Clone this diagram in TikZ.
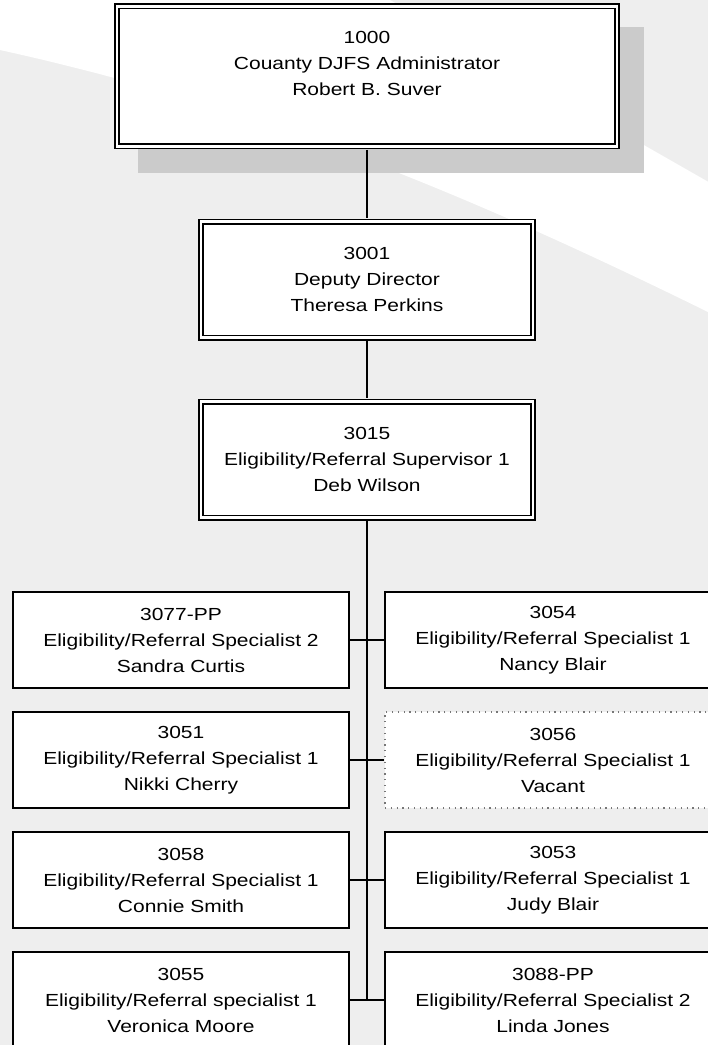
\documentclass[tikz,border=0pt]{standalone}
\usepackage{fontspec}
\setmainfont{Liberation Sans}[FakeStretch=1.2]
\usepackage{tikz}
\usetikzlibrary{positioning}
\definecolor{bggray}{HTML}{EEEEEE}
\definecolor{shadowgray}{HTML}{CBCBCB}
\definecolor{dotgray}{HTML}{777777}
\tikzset{
    headbox/.style={draw, fill=white, line width=1.5pt, double=white, double distance=2.8pt,
        align=center, inner sep=0pt, minimum width=332pt, minimum height=116pt,
        font=\fontsize{17.5}{26}\selectfont},
    staffbox/.style={draw, fill=white, line width=1.6pt, align=center, inner sep=0pt,
        minimum width=336pt, minimum height=96pt, font=\fontsize{17.5}{26}\selectfont},
    vacantbox/.style={staffbox, draw=dotgray, line width=1.2pt, dash pattern=on 1.2pt off 4.6pt},
    link/.style={line width=1.5pt},
}

\begin{document}
\begin{tikzpicture}[x=1pt,y=-1pt]
        \useasboundingbox (0,0) rectangle (708,1045);
        \clip (0,0) rectangle (708,1045);

        % background swoosh
        \fill[bggray] (0,0) rectangle (708,1045);
        \fill[white] (0,0) -- (390,0) -- (708,181.7) -- (708,312) .. controls (460,190) and (250,105) .. (0,50) -- cycle;
        \fill[shadowgray] (138,27) rectangle (644,172.7);

        \node[headbox, minimum width=500pt, minimum height=140pt] (admin) at (367,76.2) {1000\\Couanty DJFS Administrator\\Robert B. Suver\\\mbox{}};
        \node[headbox] (deputy) at (367,279.7) {3001\\Deputy Director\\Theresa Perkins};
        \node[headbox] (supv) at (367,459.7) {3015\\Eligibility/Referral Supervisor 1\\Deb Wilson};

        \node[staffbox] (s3077) at (181,640) {3077-PP\\Eligibility/Referral Specialist 2\\Sandra Curtis};
        \node[staffbox] (s3054) at (553,640) {3054\\Eligibility/Referral Specialist 1\\Nancy Blair};
        \node[staffbox] (s3051) at (181,760) {3051\\Eligibility/Referral Specialist 1\\Nikki Cherry};
        \node[vacantbox] (s3056) at (553,760) {3056\\Eligibility/Referral Specialist 1\\Vacant};
        \node[staffbox] (s3058) at (181,880) {3058\\Eligibility/Referral Specialist 1\\Connie Smith};
        \node[staffbox] (s3053) at (553,880) {3053\\Eligibility/Referral Specialist 1\\Judy Blair};
        \node[staffbox] (s3055) at (181,1000) {3055\\Eligibility/Referral specialist 1\\Veronica Moore};
        \node[staffbox] (s3088) at (553,1000) {3088-PP\\Eligibility/Referral Specialist 2\\Linda Jones};

        \coordinate (spine) at (367,1000);
        \draw[link, shorten <=2.9pt, shorten >=2.9pt] (admin.south) -- (deputy.north);
        \draw[link, shorten <=2.9pt, shorten >=2.9pt] (deputy.south) -- (supv.north);
        \draw[link, shorten <=2.9pt] (supv.south) -- (spine);

        \draw[link] (s3077.east) -- (s3054.west);
        \draw[link] (s3051.east) -- (s3056.west);
        \draw[link] (s3058.east) -- (s3053.west);
        \draw[link] (s3055.east) -- (s3088.west);
    \end{tikzpicture}
\end{document}
